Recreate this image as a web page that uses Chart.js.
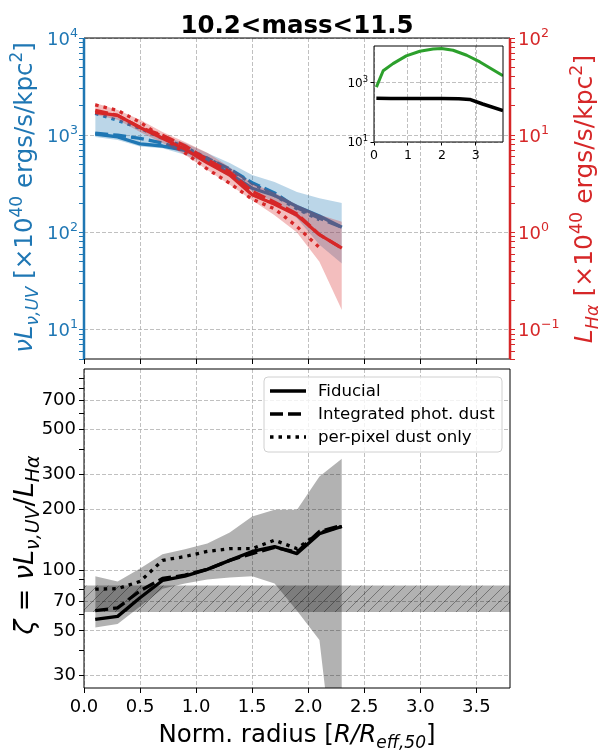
<!DOCTYPE html>
<html>
<head>
<meta charset="utf-8">
<title>10.2&lt;mass&lt;11.5</title>
<script src="https://cdn.jsdelivr.net/npm/chart.js@4.4.1/dist/chart.umd.min.js"></script>
<style>
  body { margin: 0; background: #fff; }
  #wrap { position: relative; width: 600px; height: 750px; overflow: hidden; }
  canvas { position: absolute; }
</style>
</head>
<body>
<div id="wrap">
  <canvas id="topChart" width="600" height="364" style="left:0;top:0"></canvas>
  <canvas id="bottomChart" width="600" height="386" style="left:0;top:364px"></canvas>
  <canvas id="insetChart" width="176" height="128" style="left:334px;top:42px"></canvas>
</div>
<script>
// radial bins (normalised radius)
const radius = [0.1, 0.3, 0.5, 0.7, 0.9, 1.1, 1.3, 1.5, 1.7, 1.9, 2.1, 2.3];

// top panel: UV surface brightness, left axis
const uvFiducial   = [1030, 960, 815, 775, 700, 560, 400, 285, 240, 185, 148, 113];
const uvIntegrated = [1050, 1000, 930, 830, 710, 580, 450, 325, 255, 180, 140, 113];
const uvPerPixel   = [1680, 1420, 1180, 930, 755, 580, 440, 320, 240, 175, 135, null];
const uvLow        = [960, 895, 765, 735, 630, 510, 370, 265, 205, 140, 75, 48];
const uvHigh       = [1750, 1530, 1220, 985, 834, 658, 519, 391, 331, 261, 225, 201];

// top panel: Halpha surface brightness, right axis
const haFiducial   = [17.2, 16.0, 12.0, 9.3, 7.2, 5.2, 3.9, 2.45, 1.95, 1.5, 0.95, 0.69];
const haIntegrated = [18.0, 16.0, 12.0, 10.0, 7.8, 5.6, 4.2, 2.65, 2.05, 1.55, 0.95, 0.69];
const haPerPixel   = [20.5, 18.0, 13.6, 9.5, 6.6, 4.5, 3.2, 2.2, 1.75, 1.15, 0.70, null];
const haLow        = [16.2, 14.4, 10.8, 8.3, 6.3, 4.4, 3.1, 2.15, 1.5, 1.0, 0.50, 0.16];
const haHigh       = [21.5, 18.2, 14.4, 10.8, 8.5, 6.6, 4.7, 3.2, 2.56, 1.93, 1.52, 1.29];

// bottom panel: zeta ratio
const zetaFiducial   = [57, 59, 73, 89, 93.5, 101, 112, 124, 131, 121, 152, 165];
const zetaIntegrated = [63, 65, 79, 91, 94.5, 101, 112, 121, 130, 123, 156, 167];
const zetaPerPixel   = [80.5, 81, 88, 112, 117, 124, 128, 128, 141, 128, 154, 165];
const zetaLow        = [52, 54, 66, 81, 86, 90, 92, 93.5, 86, 63, 45, 5];
const zetaHigh       = [93.5, 88, 102, 120, 127, 136, 154, 185, 200, 200, 292, 358];
const refRange       = [62, 84];
const refSpan        = [0, 3.8];

// inset
const insetRadiusGreen = [0.07, 0.27, 0.56, 0.95, 1.35, 1.74, 1.99, 2.33, 2.73, 3.12, 3.8];
const insetGreen       = [700, 2500, 4350, 7900, 11300, 13500, 14100, 12200, 8300, 4950, 1700];
const insetRadiusBlack = [0.07, 0.5, 1.0, 1.5, 2.0, 2.5, 2.82, 3.2, 3.8];
const insetBlack       = [296, 292, 290, 290, 290, 285, 270, 190, 114];

// ticks
const xTicks = [0, 0.5, 1.0, 1.5, 2.0, 2.5, 3.0, 3.5];
const zetaTickLabels = [30, 50, 70, 100, 200, 300, 500, 700];
const insetXTicks = [0, 1, 2, 3];
const insetYTicks = [10, 1000];

const FONT = "'DejaVu Sans', sans-serif";
const GRID = '#b0b0b0';
const BLUE = '#1f77b4', RED = '#d62728', GREEN = '#2ca02c';
const LW = 3.3;
const DASH = [13, 5], DOT = [3.5, 5];

Chart.defaults.font.family = FONT;
Chart.defaults.color = '#000';

function pts(xs, ys) {
  return xs.map((x, i) => ({ x: x, y: ys[i] }));
}

function logTicks(lo, hi) {
  const out = [];
  for (let e = Math.floor(Math.log10(lo)); e <= Math.ceil(Math.log10(hi)); e++) {
    for (let m = 1; m < 10; m++) {
      const v = parseFloat((m * Math.pow(10, e)).toPrecision(6));
      if (v >= lo * 0.9999 && v <= hi * 1.0001) out.push(v);
    }
  }
  return out;
}

function isPow10(v) {
  const l = Math.log10(v);
  return Math.abs(l - Math.round(l)) < 1e-6;
}

function line(label, xs, ys, color, dash, order, axis, width) {
  return {
    label: label, data: pts(xs, ys), borderColor: color, backgroundColor: color,
    borderWidth: width || LW, borderDash: dash, borderCapStyle: 'butt', borderJoinStyle: 'round',
    pointRadius: 0, tension: 0, fill: false, order: order, yAxisID: axis || 'y'
  };
}

function edge(xs, ys, order, axis) {
  return {
    data: pts(xs, ys), borderColor: 'transparent', borderWidth: 0,
    pointRadius: 0, fill: false, order: order, yAxisID: axis || 'y'
  };
}

function band(xs, ys, color, order, axis) {
  return {
    data: pts(xs, ys), borderColor: 'transparent', borderWidth: 0,
    pointRadius: 0, fill: '-1', backgroundColor: color, order: order, yAxisID: axis || 'y'
  };
}

function setFont(ctx, size, style) {
  ctx.font = (style === 'i' ? 'italic ' : style === 'b' ? 'bold ' : '') + size + 'px ' + FONT;
}

// text made of pieces: [text, size, style, dy]
function drawRich(ctx, parts, x, y, rot, color, align) {
  ctx.save();
  ctx.translate(x, y);
  ctx.rotate(rot || 0);
  ctx.fillStyle = color;
  ctx.textBaseline = 'alphabetic';
  ctx.textAlign = 'left';
  let w = 0;
  const widths = parts.map(p => {
    setFont(ctx, p[1], p[2]);
    const m = ctx.measureText(p[0]).width;
    w += m;
    return m;
  });
  let cx = align === 'right' ? -w : align === 'left' ? 0 : -w / 2;
  parts.forEach((p, i) => {
    setFont(ctx, p[1], p[2]);
    ctx.fillText(p[0], cx, p[3] || 0);
    cx += widths[i];
  });
  ctx.restore();
}

function powLabels(ctx, scale, align, x, color, size) {
  scale.ticks.forEach(t => {
    if (!isPow10(t.value)) return;
    const y = scale.getPixelForValue(t.value);
    const e = String(Math.round(Math.log10(t.value))).replace('-', '\u2212');
    drawRich(ctx, [['10', size, ''], [e, size * 0.7, '', -size * 0.45]], x, y + size * 0.37, 0, color, align);
  });
}

function makeFrame(spec) {
  return {
    id: 'frame',
    afterDatasetsDraw(chart) {
      const ctx = chart.ctx, a = chart.chartArea;
      const side = (s, x1, y1, x2, y2) => {
        ctx.save();
        ctx.strokeStyle = s[0];
        ctx.lineWidth = s[1];
        ctx.beginPath();
        ctx.moveTo(x1, y1);
        ctx.lineTo(x2, y2);
        ctx.stroke();
        ctx.restore();
      };
      side(spec.top, a.left, a.top, a.right, a.top);
      side(spec.bottom, a.left, a.bottom, a.right, a.bottom);
      side(spec.left, a.left, a.top, a.left, a.bottom);
      side(spec.right, a.right, a.top, a.right, a.bottom);
    }
  };
}

// fixed axis box sizes, no extra label padding
function fixWidth(w) {
  return sc => { sc.width = w; sc.paddingTop = 0; sc.paddingBottom = 0; };
}
function fixHeight(h) {
  return sc => { sc.height = h; sc.paddingLeft = 0; sc.paddingRight = 0; };
}

const S = 24.5, s = 17;
const uvTitle = [['\u03BD', S, 'i'], ['L', S, 'i'], ['\u03BD,UV', s, 'i', 5.5], [' [\u00D710', S, ''], ['40', s, '', -10],
  [' ergs/s/kpc', S, ''], ['2', s, '', -10], [']', S, '']];
const haTitle = [['L', 25, 'i'], ['H\u03B1', 17.5, 'i', 5.5], [' [\u00D710', 25, ''], ['40', 17.5, '', -10],
  [' ergs/s/kpc', 25, ''], ['2', 17.5, '', -10], [']', 25, '']];
const zetaTitle = [['\u03B6', 27, 'i'], [' = ', 27, ''], ['\u03BD', 27, 'i'], ['L', 27, 'i'], ['\u03BD,UV', 19, 'i', 6],
  ['/', 27, ''], ['L', 27, 'i'], ['H\u03B1', 19, 'i', 6]];
const xTitle = [['Norm. radius [', S, ''], ['R/R', S, 'i'], ['eff,50', s, 'i', 5.5], [']', S, '']];

const topText = {
  id: 'topText',
  afterDraw(chart) {
    const ctx = chart.ctx;
    drawRich(ctx, [['10.2<mass<11.5', 24.5, 'b']], 297, 33, 0, '#000');
    drawRich(ctx, uvTitle, 32, 197.5, -Math.PI / 2, BLUE);
    drawRich(ctx, haTitle, 592, 199, -Math.PI / 2, RED);
    powLabels(ctx, chart.scales.y, 'right', 78, BLUE, 18);
    powLabels(ctx, chart.scales.y2, 'left', 518, RED, 18);
  }
};

const bottomText = {
  id: 'bottomText',
  afterDraw(chart) {
    const ctx = chart.ctx;
    drawRich(ctx, zetaTitle, 33, 181, -Math.PI / 2, '#000');
    drawRich(ctx, xTitle, 297, 378, 0, '#000');

    // legend box
    const bx = 264, by = 13, bw = 238, bh = 75, r = 4;
    ctx.save();
    ctx.beginPath();
    ctx.moveTo(bx + r, by);
    ctx.arcTo(bx + bw, by, bx + bw, by + bh, r);
    ctx.arcTo(bx + bw, by + bh, bx, by + bh, r);
    ctx.arcTo(bx, by + bh, bx, by, r);
    ctx.arcTo(bx, by, bx + bw, by, r);
    ctx.closePath();
    ctx.fillStyle = 'rgba(255,255,255,0.8)';
    ctx.fill();
    ctx.strokeStyle = '#d0d0d0';
    ctx.lineWidth = 1;
    ctx.stroke();
    const entries = chart.data.datasets.filter(d => d.label);
    entries.forEach((d, i) => {
      const y = 27 + i * 23;
      ctx.strokeStyle = d.borderColor;
      ctx.lineWidth = LW;
      ctx.lineCap = 'butt';
      ctx.setLineDash(d.borderDash || []);
      ctx.beginPath();
      ctx.moveTo(270, y);
      ctx.lineTo(306, y);
      ctx.stroke();
      ctx.setLineDash([]);
      ctx.fillStyle = '#000';
      ctx.font = '16.6px ' + FONT;
      ctx.textBaseline = 'middle';
      ctx.fillText(d.label, 318, y + 1);
    });
    ctx.restore();
  }
};

const insetText = {
  id: 'insetText',
  afterDraw(chart) {
    powLabels(chart.ctx, chart.scales.y, 'right', 34, '#000', 12);
  }
};

function hatch() {
  const n = 11;
  const c = document.createElement('canvas');
  c.width = n; c.height = n;
  const g = c.getContext('2d');
  g.fillStyle = 'rgba(0,0,0,0.3)';
  g.fillRect(0, 0, n, n);
  g.strokeStyle = 'rgba(0,0,0,0.35)';
  g.lineWidth = 1;
  g.beginPath();
  g.moveTo(-1, n + 1); g.lineTo(n + 1, -1);
  g.moveTo(-1, 1); g.lineTo(1, -1);
  g.moveTo(n - 1, n + 1); g.lineTo(n + 1, n - 1);
  g.stroke();
  return g.createPattern(c, 'repeat');
}

const baseGrid = { color: GRID, lineWidth: 0.8, tickLength: 5, tickWidth: 1, tickColor: '#000' };
const majorOnly = list => c => (c.tick && list(c.tick.value)) ? GRID : 'transparent';

// ---------- top panel ----------
new Chart(document.getElementById('topChart'), {
  type: 'line',
  data: {
    datasets: [
      edge(radius, uvLow, 50),
      band(radius, uvHigh, 'rgba(31,119,180,0.3)', 50),
      line('Fiducial', radius, uvFiducial, BLUE, [], 42),
      line('Integrated phot. dust', radius, uvIntegrated, BLUE, DASH, 41),
      line('per-pixel dust only', radius, uvPerPixel, BLUE, DOT, 40),
      edge(radius, haLow, 30, 'y2'),
      band(radius, haHigh, 'rgba(214,39,40,0.3)', 30, 'y2'),
      line('Fiducial', radius, haFiducial, RED, [], 22, 'y2'),
      line('Integrated phot. dust', radius, haIntegrated, RED, DASH, 21, 'y2'),
      line('per-pixel dust only', radius, haPerPixel, RED, DOT, 20, 'y2')
    ]
  },
  options: {
    responsive: false,
    animation: false,
    events: [],
    layout: { padding: { top: 38 } },
    plugins: { legend: { display: false }, tooltip: { enabled: false } },
    scales: {
      x: {
        type: 'linear', min: 0, max: 3.8,
        afterBuildTicks: sc => { sc.ticks = xTicks.map(v => ({ value: v })); },
        afterFit: fixHeight(5),
        ticks: { display: false },
        grid: baseGrid,
        border: { display: false, dash: [4, 2] }
      },
      y: {
        type: 'logarithmic', position: 'left', min: 5, max: 1e4,
        afterBuildTicks: sc => { sc.ticks = logTicks(5, 1e4).map(v => ({ value: v })); },
        afterFit: fixWidth(84),
        ticks: { display: false },
        grid: Object.assign({}, baseGrid, { color: majorOnly(isPow10), tickColor: BLUE }),
        border: { display: false, dash: [4, 2] }
      },
      y2: {
        type: 'logarithmic', position: 'right', min: 0.05, max: 100,
        afterBuildTicks: sc => { sc.ticks = logTicks(0.05, 100).map(v => ({ value: v })); },
        afterFit: fixWidth(90),
        ticks: { display: false },
        grid: Object.assign({}, baseGrid, { drawOnChartArea: false, tickColor: RED }),
        border: { display: false }
      }
    }
  },
  plugins: [makeFrame({ top: ['#000', 1], bottom: ['#000', 1], left: [BLUE, 2.5], right: [RED, 2.5] }), topText]
});

// ---------- bottom panel ----------
new Chart(document.getElementById('bottomChart'), {
  type: 'line',
  data: {
    datasets: [
      edge(radius, zetaLow, 50),
      band(radius, zetaHigh, 'rgba(0,0,0,0.3)', 50),
      edge(refSpan, [refRange[0], refRange[0]], 45),
      band(refSpan, [refRange[1], refRange[1]], hatch(), 45),
      line('Fiducial', radius, zetaFiducial, '#000', [], 32),
      line('Integrated phot. dust', radius, zetaIntegrated, '#000', DASH, 31),
      line('per-pixel dust only', radius, zetaPerPixel, '#000', DOT, 30)
    ]
  },
  options: {
    responsive: false,
    animation: false,
    events: [],
    layout: { padding: { top: 5, right: 90 } },
    plugins: { legend: { display: false }, tooltip: { enabled: false } },
    scales: {
      x: {
        type: 'linear', min: 0, max: 3.8,
        afterBuildTicks: sc => { sc.ticks = xTicks.map(v => ({ value: v })); },
        afterFit: fixHeight(62),
        ticks: { callback: v => v.toFixed(1), font: { size: 18 }, color: '#000', padding: 4, autoSkip: false, maxRotation: 0 },
        grid: baseGrid,
        border: { display: false, dash: [4, 2] }
      },
      y: {
        type: 'logarithmic', min: 26, max: 1000,
        afterBuildTicks: sc => { sc.ticks = logTicks(26, 999).map(v => ({ value: v })); },
        afterFit: fixWidth(84),
        ticks: {
          callback: v => zetaTickLabels.includes(v) ? String(v) : '',
          font: { size: 18 }, color: '#000', padding: 3, autoSkip: false
        },
        grid: Object.assign({}, baseGrid, { color: majorOnly(v => zetaTickLabels.includes(v)) }),
        border: { display: false, dash: [4, 2] }
      }
    }
  },
  plugins: [makeFrame({ top: ['#000', 1], bottom: ['#000', 1], left: ['#000', 1], right: ['#000', 1] }), bottomText]
});

// ---------- inset ----------
new Chart(document.getElementById('insetChart'), {
  type: 'line',
  data: {
    datasets: [
      line('', insetRadiusGreen, insetGreen, GREEN, [], 2, 'y', 3),
      line('', insetRadiusBlack, insetBlack, '#000', [], 1, 'y', 3.5)
    ]
  },
  options: {
    responsive: false,
    animation: false,
    events: [],
    layout: { padding: { top: 4, right: 7 } },
    plugins: { legend: { display: false }, tooltip: { enabled: false } },
    scales: {
      x: {
        type: 'linear', min: 0, max: 3.8,
        afterBuildTicks: sc => { sc.ticks = insetXTicks.map(v => ({ value: v })); },
        afterFit: fixHeight(28),
        ticks: { font: { size: 12.5 }, color: '#000', padding: 3, autoSkip: false, maxRotation: 0 },
        grid: Object.assign({}, baseGrid, { tickLength: 3.5 }),
        border: { display: false, dash: [4, 2] }
      },
      y: {
        type: 'logarithmic', min: 10, max: 17000,
        afterBuildTicks: sc => { sc.ticks = insetYTicks.map(v => ({ value: v })); },
        afterFit: fixWidth(40),
        ticks: { display: false },
        grid: Object.assign({}, baseGrid, { tickLength: 3.5 }),
        border: { display: false, dash: [4, 2] }
      }
    }
  },
  plugins: [makeFrame({ top: ['#000', 1], bottom: ['#000', 1], left: ['#000', 1], right: ['#000', 1] }), insetText]
});
</script>
</body>
</html>
